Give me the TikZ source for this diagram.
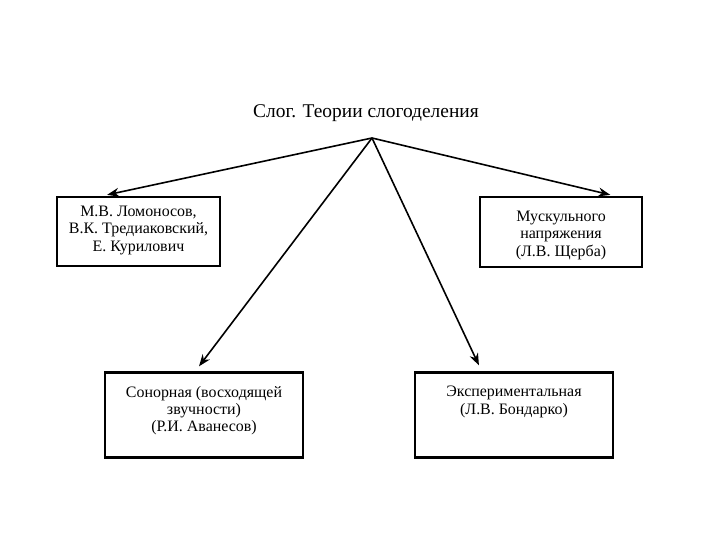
\documentclass[tikz,border=0pt]{standalone}
\usepackage{fontspec}
\setmainfont{Liberation Serif}
\usetikzlibrary{arrows.meta,calc}
\tikzset{
  box/.style={draw=black, line width=2.3bp, rectangle, inner sep=0pt},
  boxtext/.style={anchor=north, align=center, inner sep=0pt, font=\fontsize{16}{17.5}\selectfont},
  arr/.style={line width=1.6bp, -{Stealth[length=12bp,width=9bp]}}
}
\begin{document}
\begin{tikzpicture}[x=1bp,y=-1bp]
\useasboundingbox (0,0) rectangle (720,540);
\node[font=\fontsize{19.5}{21}\selectfont, inner sep=0pt] (title) at (366,113) {Слог. Теории слогоделения};
\coordinate (o) at (372,138);
\node[box, minimum width=163bp, minimum height=69bp] (b1) at (138.5,231.5) {};
\node[box, minimum width=162bp, minimum height=70bp] (b2) at (561,232) {};
\node[box, minimum width=198bp, minimum height=85bp] (b3) at (204,415) {};
\node[box, minimum width=198bp, minimum height=85bp] (b4) at (514,415) {};
\node[boxtext] (t1) at ($(b1.north)+(0,10)$) {М.В. Ломоносов,\\В.К. Тредиаковский,\\Е. Курилович};
\node[boxtext] (t2) at ($(b2.north)+(0,15)$) {Мускульного\\напряжения\\(Л.В. Щерба)};
\node[boxtext] (t3) at ($(b3.north)+(0,14.5)$) {Сонорная (восходящей\\звучности)\\(Р.И. Аванесов)};
\node[boxtext] (t4) at ($(b4.north)+(0,14.5)$) {Экспериментальная\\(Л.В. Бондарко)};
\draw[arr] (o) -- ($(b1.north west)!0.31!(b1.north east)+(0,-1)$);
\draw[arr] (o) -- ($(b2.north west)!0.80!(b2.north east)+(0,-1)$);
\draw[arr] (o) -- ($(b3.north west)!0.475!(b3.north east)+(0,-5)$);
\draw[arr] (o) -- ($(b4.north west)!0.325!(b4.north east)+(0,-6)$);
\end{tikzpicture}
\end{document}
